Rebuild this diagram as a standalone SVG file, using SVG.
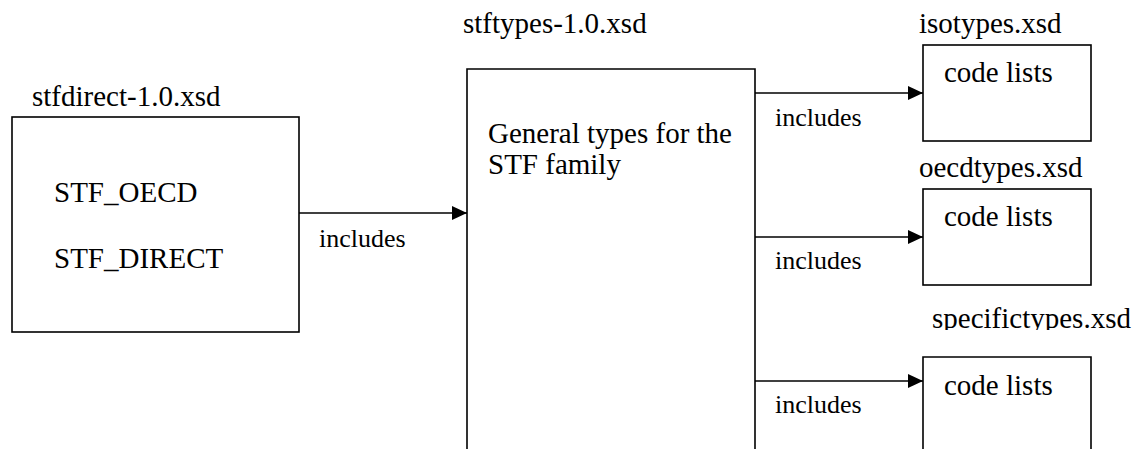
<svg xmlns="http://www.w3.org/2000/svg" width="1145" height="449" viewBox="0 0 1145 449">
<style>
text{font-family:"Liberation Serif","Times New Roman",serif;fill:#000;font-size:29px}
.lbl{font-size:26px}
.box{fill:#fff;stroke:#000;stroke-width:1.6}
.conn{stroke:#000;stroke-width:1.6;fill:none}
</style>
<defs>
<marker id="arr" markerWidth="15" markerHeight="14" refX="15" refY="7" orient="auto" markerUnits="userSpaceOnUse">
<path d="M0,0 L15,7 L0,14 Z" fill="#000"/>
</marker>
<clipPath id="clipSpec"><rect x="900" y="300" width="245" height="30"/></clipPath>
</defs>
<rect width="1145" height="449" fill="#fff"/>
<g id="stfdirect">
<text x="32" y="106">stfdirect-1.0.xsd</text>
<rect class="box" x="12" y="117" width="287" height="215"/>
<text x="54" y="202">STF_OECD</text>
<text x="54" y="268">STF_DIRECT</text>
</g>
<g id="stftypes">
<text x="463" y="33">stftypes-1.0.xsd</text>
<path class="box" d="M467,460 L467,69 L755,69 L755,460"/>
<text x="488" y="143">General types for the</text>
<text x="488" y="174">STF family</text>
</g>
<g id="isotypes">
<text x="919" y="33">isotypes.xsd</text>
<rect class="box" x="923" y="45" width="168" height="96"/>
<text x="944" y="82">code lists</text>
</g>
<g id="oecdtypes">
<text x="919" y="177">oecdtypes.xsd</text>
<rect class="box" x="923" y="189" width="168" height="96"/>
<text x="944" y="226">code lists</text>
</g>
<g id="specifictypes">
<text x="932" y="328" clip-path="url(#clipSpec)">specifictypes.xsd</text>
<path class="box" d="M923,460 L923,357 L1091,357 L1091,460"/>
<text x="944" y="395">code lists</text>
</g>
<g id="connectors">
<line class="conn" x1="299" y1="213" x2="467" y2="213" marker-end="url(#arr)"/>
<text class="lbl" x="319" y="247">includes</text>
<line class="conn" x1="755" y1="93" x2="923" y2="93" marker-end="url(#arr)"/>
<text class="lbl" x="775" y="126">includes</text>
<line class="conn" x1="755" y1="237" x2="923" y2="237" marker-end="url(#arr)"/>
<text class="lbl" x="775" y="269">includes</text>
<line class="conn" x1="755" y1="381" x2="923" y2="381" marker-end="url(#arr)"/>
<text class="lbl" x="775" y="413">includes</text>
</g>
</svg>
